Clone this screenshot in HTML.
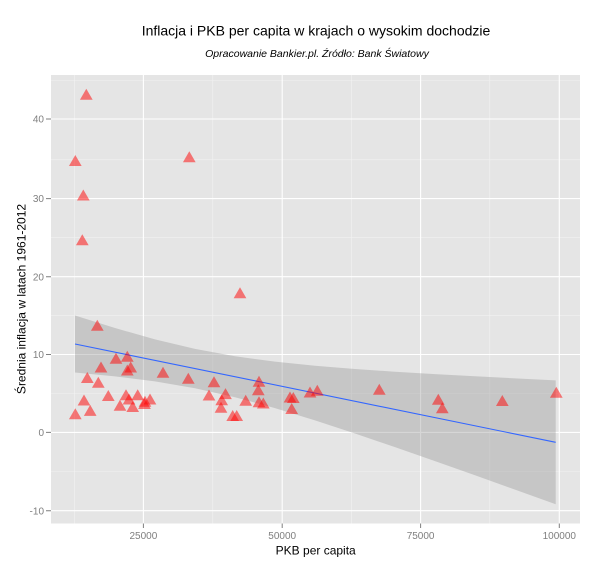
<!DOCTYPE html>
<html><head><meta charset="utf-8"><style>
html,body{margin:0;padding:0;background:#fff;}
svg{display:block;}
text{font-family:"Liberation Sans",Arial,sans-serif;}
</style></head><body>
<svg width="600" height="569" viewBox="0 0 600 569" xmlns="http://www.w3.org/2000/svg" xmlns:xlink="http://www.w3.org/1999/xlink">
<defs>
<polygon id="t" points="0,-5.5 -6.35,5.5 6.35,5.5" fill="#FF0000" fill-opacity="0.5"/>
</defs>
<rect x="0" y="0" width="600" height="569" fill="#fff"/>
<rect x="51" y="75" width="529" height="448.5" fill="#E5E5E5"/>
<path stroke="#F2F2F2" stroke-width="0.6" fill="none" d="M51 471.5H580M51 393.5H580M51 315.6H580M51 237.7H580M51 159.8H580M51 80.5H580M74.3 75V523.5M212.8 75V523.5M351.3 75V523.5M489.8 75V523.5"/>
<path stroke="#FFFFFF" stroke-width="1.1" fill="none" d="M51 510.7H580M51 432.4H580M51 354.5H580M51 276.7H580M51 198.6H580M51 119H580M143.4 75V523.5M282.2 75V523.5M420.6 75V523.5M559.3 75V523.5"/>
<polygon fill="#999999" fill-opacity="0.4" points="75,315.5 115,328.03 155,339.35 195,348.88 235,356.24 275,361.67 315,365.75 355,368.99 395,371.71 435,374.11 475,376.3 515,378.36 555.7,380.34 555.7,504.26 515,489.6 475,475.3 435,461.13 395,447.17 355,433.53 315,420.41 275,408.13 235,397.2 195,388.2 155,381.37 115,376.33 75,372.5"/>
<line x1="75" y1="344" x2="555.7" y2="442.3" stroke="#3366FF" stroke-width="1.1"/>
<g>
<use href="#t" xlink:href="#t" x="86.3" y="94.3"/>
<use href="#t" xlink:href="#t" x="75.3" y="160.5"/>
<use href="#t" xlink:href="#t" x="189.3" y="156.8"/>
<use href="#t" xlink:href="#t" x="83.3" y="195"/>
<use href="#t" xlink:href="#t" x="82.3" y="239.8"/>
<use href="#t" xlink:href="#t" x="240" y="292.8"/>
<use href="#t" xlink:href="#t" x="97.3" y="325.3"/>
<use href="#t" xlink:href="#t" x="116" y="358.2"/>
<use href="#t" xlink:href="#t" x="127.3" y="356.3"/>
<use href="#t" xlink:href="#t" x="101" y="367"/>
<use href="#t" xlink:href="#t" x="127.3" y="370"/>
<use href="#t" xlink:href="#t" x="130.7" y="367"/>
<use href="#t" xlink:href="#t" x="163" y="372.3"/>
<use href="#t" xlink:href="#t" x="188.3" y="378.3"/>
<use href="#t" xlink:href="#t" x="214" y="381.7"/>
<use href="#t" xlink:href="#t" x="87.3" y="377.5"/>
<use href="#t" xlink:href="#t" x="98.3" y="382.3"/>
<use href="#t" xlink:href="#t" x="84" y="400"/>
<use href="#t" xlink:href="#t" x="90.2" y="410.4"/>
<use href="#t" xlink:href="#t" x="75.3" y="413.7"/>
<use href="#t" xlink:href="#t" x="108.3" y="395.5"/>
<use href="#t" xlink:href="#t" x="126" y="394.7"/>
<use href="#t" xlink:href="#t" x="129" y="399"/>
<use href="#t" xlink:href="#t" x="137.7" y="394.7"/>
<use href="#t" xlink:href="#t" x="120" y="405.2"/>
<use href="#t" xlink:href="#t" x="132.7" y="406.5"/>
<use href="#t" xlink:href="#t" x="145" y="401.2"/>
<use href="#t" xlink:href="#t" x="144.5" y="403.5"/>
<use href="#t" xlink:href="#t" x="150" y="399"/>
<use href="#t" xlink:href="#t" x="209" y="395"/>
<use href="#t" xlink:href="#t" x="225.5" y="393.6"/>
<use href="#t" xlink:href="#t" x="221.7" y="399.7"/>
<use href="#t" xlink:href="#t" x="221" y="407.3"/>
<use href="#t" xlink:href="#t" x="232.7" y="415.5"/>
<use href="#t" xlink:href="#t" x="236.7" y="415.5"/>
<use href="#t" xlink:href="#t" x="245.7" y="400.3"/>
<use href="#t" xlink:href="#t" x="259" y="381.3"/>
<use href="#t" xlink:href="#t" x="258.3" y="389.7"/>
<use href="#t" xlink:href="#t" x="259" y="401.7"/>
<use href="#t" xlink:href="#t" x="263.3" y="403"/>
<use href="#t" xlink:href="#t" x="290" y="397"/>
<use href="#t" xlink:href="#t" x="293.3" y="397.5"/>
<use href="#t" xlink:href="#t" x="291.7" y="408.5"/>
<use href="#t" xlink:href="#t" x="310" y="392"/>
<use href="#t" xlink:href="#t" x="317.3" y="390.3"/>
<use href="#t" xlink:href="#t" x="379.3" y="389.3"/>
<use href="#t" xlink:href="#t" x="438.3" y="399.2"/>
<use href="#t" xlink:href="#t" x="442.3" y="407.7"/>
<use href="#t" xlink:href="#t" x="502.3" y="400.5"/>
<use href="#t" xlink:href="#t" x="556.3" y="392.3"/>
</g>
<path stroke="#7F7F7F" stroke-width="1" fill="none" d="M46 510.7H51M46 432.4H51M46 354.5H51M46 276.7H51M46 198.6H51M46 119H51M143.4 523.5V528M282.2 523.5V528M420.6 523.5V528M559.3 523.5V528"/>
<g fill="#7F7F7F" font-size="10" text-anchor="end">
<text x="44" y="514.3">-10</text>
<text x="44" y="436">0</text>
<text x="44" y="358.1">10</text>
<text x="44" y="280.3">20</text>
<text x="44" y="202.2">30</text>
<text x="44" y="122.6">40</text>
</g>
<g fill="#7F7F7F" font-size="10" text-anchor="middle">
<text x="143.4" y="539">25000</text>
<text x="282.2" y="539">50000</text>
<text x="420.6" y="539">75000</text>
<text x="559.3" y="539">100000</text>
</g>
<text x="316" y="35.3" font-size="14" text-anchor="middle" fill="#000">Inflacja i PKB per capita w krajach o wysokim dochodzie</text>
<text x="317" y="57" font-size="10.5" font-style="italic" text-anchor="middle" fill="#000">Opracowanie Bankier.pl. Źródło: Bank Światowy</text>
<text x="315.7" y="554.5" font-size="12" text-anchor="middle" fill="#000">PKB per capita</text>
<text transform="translate(25.5,299) rotate(-90)" font-size="12" text-anchor="middle" fill="#000">Średnia inflacja w latach 1961-2012</text>
</svg>
</body></html>
